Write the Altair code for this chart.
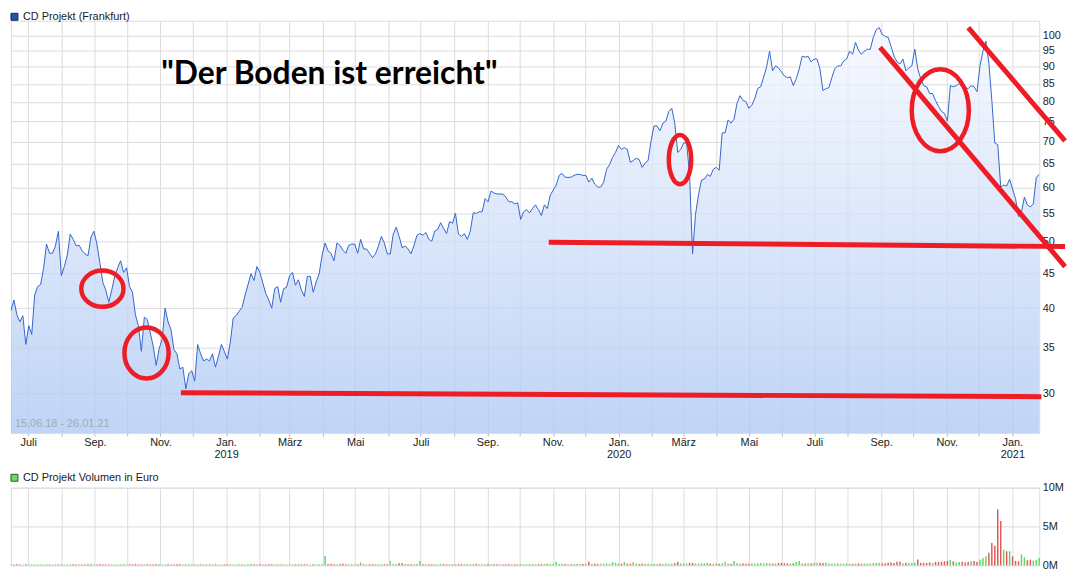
import altair as alt
import numpy as np
import pandas as pd

START = "2018-06-15"
END = "2021-01-26"

# closing prices (EUR) at regular steps from 15.06.18 to 26.01.21
price = [
    39.7, 41.1, 39.1, 38.2, 39.0, 35.4, 37.7, 36.6, 41.8, 43.0, 43.3, 45.7,
    49.6, 48.1, 48.1, 49.3, 51.8, 44.6, 46.0, 47.8, 51.3, 50.4, 49.3, 49.4,
    48.5, 48.0, 47.7, 50.8, 51.8, 49.6, 46.6, 43.6, 42.5, 40.8, 42.5, 44.5,
    45.8, 46.9, 45.1, 45.8, 43.0, 42.2, 39.1, 37.7, 34.6, 38.8, 38.5, 36.8,
    35.2, 33.0, 34.9, 36.0, 40.0, 38.2, 37.2, 34.8, 34.3, 32.6, 32.8, 30.5,
    32.1, 32.4, 31.3, 35.4, 34.3, 33.5, 33.7, 33.5, 34.3, 32.8, 34.0, 35.4,
    34.6, 33.7, 35.6, 38.7, 39.0, 39.6, 40.1, 41.8, 43.3, 44.9, 43.9, 46.0,
    45.1, 43.5, 42.0, 41.1, 40.0, 42.7, 43.0, 40.8, 42.7, 42.9, 44.6, 45.1,
    43.2, 44.0, 42.5, 41.6, 44.5, 44.5, 42.2, 43.7, 44.9, 47.8, 49.8, 48.5,
    48.1, 46.9, 49.8, 49.4, 48.6, 48.1, 49.4, 49.6, 49.6, 48.1, 50.4, 48.8,
    48.8, 48.1, 47.4, 48.0, 49.3, 50.9, 49.8, 48.0, 48.0, 51.3, 52.5, 50.9,
    49.0, 49.3, 48.8, 48.0, 49.4, 51.1, 51.4, 51.1, 51.6, 50.4, 50.1, 51.8,
    52.1, 53.3, 52.3, 51.4, 53.5, 53.2, 55.0, 51.3, 50.9, 51.4, 50.4, 51.8,
    55.1, 55.0, 55.3, 55.3, 57.8, 57.2, 59.3, 58.9, 58.7, 58.7, 58.7, 58.1,
    57.2, 57.2, 56.8, 57.0, 53.9, 55.3, 55.7, 55.1, 55.9, 56.6, 55.7, 54.6,
    56.6, 55.9, 58.5, 59.5, 60.5, 62.5, 62.9, 62.1, 62.1, 62.1, 62.5, 62.7,
    62.7, 62.5, 62.5, 61.1, 61.9, 60.7, 60.1, 60.1, 61.1, 63.8, 64.8, 66.4,
    67.5, 69.1, 68.2, 68.6, 68.2, 65.3, 65.7, 66.2, 65.9, 64.2, 65.1, 65.7,
    70.2, 73.8, 73.8, 72.6, 74.5, 75.0, 77.5, 78.3, 74.5, 67.5, 68.2, 69.7,
    69.7, 62.7, 48.0, 54.8, 58.5, 61.5, 61.7, 62.7, 62.3, 63.8, 64.2, 63.6,
    72.1, 72.1, 75.3, 74.5, 75.5, 79.6, 81.7, 80.4, 80.1, 78.3, 79.1, 80.9,
    83.7, 84.2, 87.0, 90.0, 94.9, 88.8, 90.3, 89.7, 88.5, 87.3, 86.8, 87.0,
    84.5, 86.5, 89.4, 93.3, 93.0, 93.3, 91.5, 92.4, 92.4, 89.4, 83.1, 83.7,
    83.9, 86.8, 89.4, 90.3, 90.3, 91.8, 92.4, 94.9, 93.9, 97.7, 95.2, 93.9,
    94.9, 95.5, 95.5, 99.4, 102.0, 102.7, 100.4, 99.7, 99.4, 96.4, 93.3, 91.5,
    90.9, 92.4, 88.8, 89.7, 90.3, 95.5, 89.4, 86.5, 84.5, 84.2, 82.3, 82.3,
    80.4, 78.8, 77.5, 77.0, 75.0, 84.5, 84.2, 84.5, 85.1, 84.2, 83.9, 83.7,
    84.5, 84.2, 82.8, 90.3, 94.9, 98.1, 91.2, 80.4, 69.7, 69.3, 60.1, 60.5,
    60.3, 61.7, 59.7, 57.8, 54.4, 55.3, 58.1, 56.6, 56.2, 56.8, 62.1, 62.7,
]

# traded volume (million EUR) at the same steps
volume = [
    0.10, 0.08, 0.12, 0.09, 0.07, 0.11, 0.10, 0.08, 0.09, 0.12, 0.10, 0.08,
    0.11, 0.09, 0.08, 0.10, 0.12, 0.09, 0.08, 0.10, 0.09, 0.11, 0.08, 0.10,
    0.09, 0.10, 0.12, 0.20, 0.10, 0.09, 0.11, 0.08, 0.10, 0.09, 0.12, 0.10,
    0.09, 0.11, 0.10, 0.08, 0.12, 0.10, 0.14, 0.11, 0.09, 0.10, 0.12, 0.09,
    0.10, 0.13, 0.11, 0.09, 0.10, 0.12, 0.08, 0.10, 0.11, 0.13, 0.09, 0.10,
    0.12, 0.10, 0.09, 0.11, 0.10, 0.08, 0.12, 0.09, 0.10, 0.11, 0.09, 0.10,
    0.11, 0.10, 0.12, 0.09, 0.10, 0.13, 0.11, 0.10, 0.12, 0.15, 0.11, 0.10,
    0.12, 0.10, 0.09, 0.11, 0.13, 0.10, 0.12, 0.09, 0.11, 0.10, 0.12, 0.10,
    0.11, 0.13, 0.10, 0.12, 0.11, 0.09, 0.12, 0.10, 0.11, 0.13, 1.20, 0.15,
    0.15, 0.12, 0.10, 0.11, 0.20, 0.12, 0.10, 0.13, 0.11, 0.12, 0.34, 0.12,
    0.10, 0.13, 0.12, 0.11, 0.14, 0.12, 0.13, 0.11, 0.55, 0.15, 0.13, 0.25,
    0.25, 0.14, 0.12, 0.13, 0.11, 0.14, 0.55, 0.12, 0.13, 0.11, 0.12, 0.14,
    0.12, 0.15, 0.13, 0.11, 0.12, 0.10, 0.13, 0.12, 0.15, 0.12, 0.11, 0.13,
    0.12, 0.14, 0.11, 0.13, 0.12, 0.15, 0.12, 0.11, 0.13, 0.12, 0.14, 0.12,
    0.13, 0.12, 0.11, 0.14, 0.12, 0.13, 0.12, 0.11, 0.15, 0.13, 0.12, 0.14,
    0.15, 0.18, 0.14, 0.20, 0.43, 0.16, 0.14, 0.17, 0.15, 0.18, 0.16, 0.14,
    0.17, 0.15, 0.19, 0.43, 0.16, 0.18, 0.15, 0.20, 0.17, 0.22, 0.18, 0.40,
    0.30, 0.22, 0.18, 0.40, 0.20, 0.17, 0.40, 0.19, 0.16, 0.18, 0.15, 0.20,
    0.15, 0.18, 0.16, 0.20, 0.17, 0.22, 0.18, 0.20, 0.25, 0.43, 0.22, 0.18,
    0.25, 0.30, 0.28, 0.22, 0.20, 0.25, 0.22, 0.30, 0.20, 0.18, 0.22, 0.20,
    0.25, 0.47, 0.22, 0.20, 0.55, 0.25, 0.20, 0.22, 0.18, 0.20, 0.22, 0.19,
    0.25, 0.28, 0.22, 0.30, 0.25, 0.20, 0.22, 0.28, 0.30, 0.25, 0.22, 0.20,
    0.25, 0.40, 0.55, 0.22, 0.20, 0.25, 0.22, 0.30, 0.32, 0.30, 0.28, 0.30,
    0.22, 0.20, 0.18, 0.22, 0.20, 0.18, 0.22, 0.20, 0.18, 0.20, 0.22, 0.18,
    0.20, 0.22, 0.25, 0.30, 0.30, 0.28, 0.22, 0.25, 0.30, 0.35, 0.28, 0.43,
    0.43, 0.25, 0.30, 0.32, 0.28, 0.35, 0.72, 0.30, 0.32, 0.28, 0.35, 0.30,
    0.43, 0.40, 0.45, 0.50, 0.55, 0.70, 0.50, 0.35, 0.40, 0.45, 0.35, 0.40,
    0.55, 0.55, 0.40, 0.70, 0.94, 1.15, 1.60, 2.85, 2.50, 7.20, 5.70, 2.00,
    1.80, 1.80, 1.15, 0.55, 0.50, 1.40, 1.00, 0.64, 0.72, 0.60, 0.68, 0.94,
]

y_ticks = [30, 35, 40, 45, 50, 55, 60, 65, 70, 75, 80, 85, 90, 95, 100]
y_domain = [26.28, 105.1]
vol_ticks = [0, 5, 10]
vol_domain = [0, 10]

price_title = "CD Projekt (Frankfurt)"
volume_title = "CD Projekt Volumen in Euro"
range_label = "15.06.18 - 26.01.21"
headline = '"Der Boden ist erreicht"'
headline_date = "2019-04-07"
headline_price = 87.9
range_label_price = 27.1

# red hand-drawn annotation lines
line_seg = ["H1", "H1", "H2", "H2", "A", "A", "B", "B"]
line_date = ["2018-11-20", "2021-01-28", "2019-10-28", "2021-02-19",
             "2020-08-31", "2021-02-19", "2020-11-21", "2021-02-19"]
line_price = [30.1, 29.7, 49.9, 49.2, 96.1, 46.0, 102.7, 70.2]

# red circles
ellipse_date = ["2018-09-08", "2018-10-19", "2020-02-27", "2020-10-26"]
ellipse_price = [42.7, 34.4, 65.9, 77.8]

# ---------------------------------------------------------------- data frames
df = pd.DataFrame({
    "date": pd.date_range(START, END, periods=len(price)),
    "price": price,
    "vol": volume,
})
d = df["price"].diff().fillna(1.0)
df["dir"] = np.where(d > 0, "up", np.where(d < 0, "down", "flat"))

lines_df = pd.DataFrame({"seg": line_seg, "date": pd.to_datetime(line_date), "price": line_price})
ell_df = pd.DataFrame({"date": pd.to_datetime(ellipse_date), "price": ellipse_price})
head_df = pd.DataFrame({"date": [pd.Timestamp(headline_date)], "price": [headline_price], "label": [headline]})
range_df = pd.DataFrame({"date": [pd.Timestamp(START)], "price": [range_label_price], "label": [range_label]})

# ---------------------------------------------------------------- styles
BLUE = "#3366cc"
RED = "#ee1c25"
GREEN_V = "#5fd65f"
RED_V = "#e05a5a"
GREY_V = "#b0b0b0"
GRID = "#dcdcdc"
FONT = "Liberation Sans"
W = 1035
H_PRICE = 415
H_VOL = 78

month_ticks = []
yy, mm = 2018, 7
while (yy, mm) <= (2021, 1):
    month_ticks.append(alt.DateTime(year=yy, month=mm, date=1))
    mm += 1
    if mm > 12:
        mm, yy = 1, yy + 1

label_expr = (
    "month(datum.value) == 0 ? ['Jan.', timeFormat(datum.value, '%Y')] : "
    "month(datum.value) == 2 ? 'März' : month(datum.value) == 4 ? 'Mai' : "
    "month(datum.value) == 6 ? 'Juli' : month(datum.value) == 8 ? 'Sep.' : "
    "month(datum.value) == 10 ? 'Nov.' : ''"
)

xs = alt.Scale(domain=[alt.DateTime(year=2018, month=6, date=15),
                       alt.DateTime(year=2021, month=1, date=26)], nice=False)
ys = alt.Scale(type="log", domain=y_domain, nice=False)

x_axis = alt.Axis(values=month_ticks, labelExpr=label_expr, labelOverlap=False,
                  labelFlush=False, grid=True, ticks=True, tickSize=3,
                  tickColor="#b8b8b8", domain=False, labelPadding=1,
                  labelLineHeight=12, title=None)
y_axis = alt.Axis(orient="right", values=y_ticks, grid=True, ticks=False, tickSize=0,
                  domain=False, labelPadding=3, labelFlush=False, format="d", title=None)

X = alt.X("date:T", scale=xs, axis=x_axis)
Y = alt.Y("price:Q", scale=ys, axis=y_axis)

area = alt.Chart(df).mark_area(
    opacity=0.75,
    color=alt.Gradient(gradient="linear",
                       stops=[alt.GradientStop(color="#f4f7fe", offset=0),
                              alt.GradientStop(color="#abc6f3", offset=1)],
                       x1=1, x2=1, y1=0, y2=1),
).encode(x=X, y=Y, y2=alt.datum(y_domain[0]))

line = alt.Chart(df).mark_line(color=BLUE, strokeWidth=1).encode(x=X, y=Y)

red_lines = alt.Chart(lines_df).mark_line(color=RED, strokeWidth=5).encode(
    x=X, y=Y, detail="seg:N")

ellipse_shapes = [
    ("M-1,0A1,0.859,0,1,1,1,0A1,0.859,0,1,1,-1,0Z", 1806),
    ("M-0.864,0A0.864,1,0,1,1,0.864,0A0.864,1,0,1,1,-0.864,0Z", 2652),
    ("M-0.455,0A0.455,1,0,1,1,0.455,0A0.455,1,0,1,1,-0.455,0Z", 2450),
    ("M-0.697,0A0.697,1,0,1,1,0.697,0A0.697,1,0,1,1,-0.697,0Z", 6806),
]
ellipses = []
for k, (shape, size) in enumerate(ellipse_shapes):
    ellipses.append(
        alt.Chart(ell_df.iloc[[k]]).mark_point(
            shape=shape, size=size, filled=False, stroke=RED, color=RED,
            strokeWidth=4.5, opacity=1
        ).encode(x=X, y=Y)
    )

head_text = alt.Chart(head_df).mark_text(
    font="Lato", fontSize=32, fontWeight="bold", color="black",
    align="center", baseline="middle"
).encode(x=X, y=Y, text="label:N")

range_text = alt.Chart(range_df).mark_text(
    font=FONT, fontSize=11, color="#a3aab5", align="left", baseline="middle", dx=4
).encode(x=X, y=Y, text="label:N")

ptitle_df = pd.DataFrame({"label": [price_title]})
p_sq = alt.Chart(ptitle_df).mark_square(
    size=49, fill="#2352b5", stroke="#15254f", strokeWidth=1, opacity=1
).encode(x=alt.value(3.5), y=alt.value(-4))
p_tx = alt.Chart(ptitle_df).mark_text(
    font=FONT, fontSize=11, color="#222222", align="left", baseline="middle"
).encode(x=alt.value(12), y=alt.value(-4), text="label:N")

price_chart = alt.layer(
    area, line, red_lines, *ellipses, head_text, range_text, p_sq, p_tx
).properties(width=W, height=H_PRICE)

# ---------------------------------------------------------------- volume
vx_axis = alt.Axis(values=month_ticks, labels=False, ticks=False, grid=True,
                   domain=False, title=None)
vy_axis = alt.Axis(orient="right", values=vol_ticks, grid=True, ticks=False, tickSize=0,
                   domain=False, labelPadding=3, labelFlush=False,
                   labelExpr="datum.value + 'M'", title=None)

vol_bars = alt.Chart(df).mark_rule(strokeWidth=1.5).encode(
    x=alt.X("date:T", scale=xs, axis=vx_axis),
    y=alt.Y("vol:Q", scale=alt.Scale(domain=vol_domain, nice=False), axis=vy_axis),
    y2=alt.datum(0),
    color=alt.Color("dir:N", scale=alt.Scale(domain=["up", "down", "flat"],
                                             range=[GREEN_V, RED_V, GREY_V]), legend=None),
)

vtitle_df = pd.DataFrame({"label": [volume_title]})
v_sq = alt.Chart(vtitle_df).mark_square(
    size=49, fill="#66dd66", stroke="#2a5a2a", strokeWidth=1, opacity=1
).encode(x=alt.value(3.5), y=alt.value(-10))
v_tx = alt.Chart(vtitle_df).mark_text(
    font=FONT, fontSize=11, color="#222222", align="left", baseline="middle"
).encode(x=alt.value(12), y=alt.value(-10), text="label:N")

vol_chart = alt.layer(vol_bars, v_sq, v_tx).properties(width=W, height=H_VOL)

chart = alt.vconcat(price_chart, vol_chart, spacing=10).properties(
    padding=0, background="white"
).configure_view(stroke=GRID, strokeWidth=1).configure_axis(
    labelFont=FONT, labelFontSize=11, labelColor="#222222",
    gridColor=GRID, gridWidth=1,
).configure_text(font=FONT)

chart.save("out.html", embed_options={"renderer": "svg", "actions": False})
